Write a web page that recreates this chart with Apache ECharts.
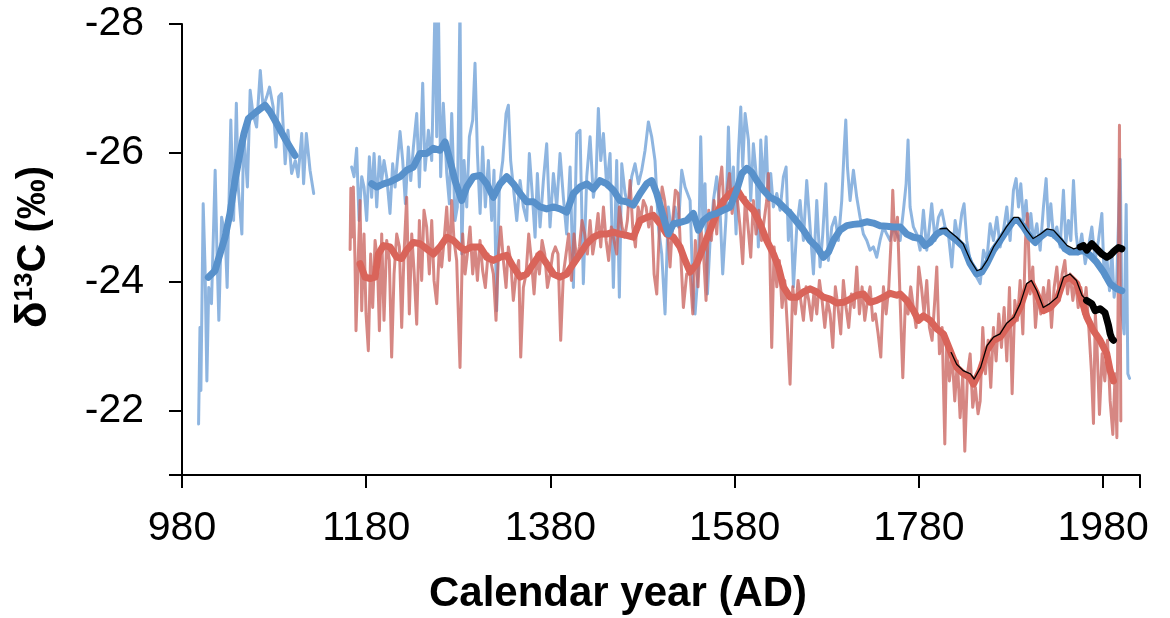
<!DOCTYPE html>
<html><head><meta charset="utf-8">
<script src="https://cdn.jsdelivr.net/npm/echarts/dist/echarts.min.js"></script>
<style>html,body{margin:0;padding:0;background:#fff}#c{width:1170px;height:618px}</style>
</head><body><div id="c"></div><script>
// ---- axis ticks / ranges ----
const xTicks = [980, 1180, 1380, 1580, 1780, 1980];
const yTicks = [-28, -26, -24, -22];

// ---- blue record, early segment: raw [year, d13C] ----
const blueRawEarly = [[998,-21.79],[999.5,-23.29],[1000.5,-22.31],[1003,-25.21],[1005,-24.23],[1007,-22.46],[1009,-23.91],[1012,-23.66],[1016,-25.73],[1018,-24.43],[1020,-23.40],[1023,-25.00],[1027,-24.69],[1029,-23.91],[1033,-26.51],[1036,-24.95],[1039,-26.77],[1041,-25.47],[1045,-24.74],[1047,-26.35],[1051,-25.47],[1054,-26.97],[1057,-26.61],[1061,-26.40],[1065,-27.28],[1068,-26.71],[1072,-26.87],[1075,-27.02],[1079,-26.71],[1082,-26.09],[1085,-26.87],[1088,-26.92],[1092,-25.83],[1095,-26.35],[1099,-25.68],[1103,-25.88],[1106,-25.63],[1110,-26.30],[1112,-25.52],[1115,-26.30],[1119,-25.73],[1123,-25.37]];
const blueSmoothEarly = [[1008.6,-24.07],[1015.8,-24.17],[1021.2,-24.43],[1026.7,-24.69],[1032.1,-25.06],[1037.5,-25.57],[1042.9,-25.99],[1047.3,-26.30],[1052,-26.53],[1061,-26.64],[1070.1,-26.74],[1075.5,-26.64],[1082.7,-26.46],[1091.8,-26.22],[1102.7,-25.96]];

// ---- blue record, main segment: raw ----
const blueRaw = [[1164.2,-25.78],[1166.8,-25.63],[1169.6,-26.07],[1172.2,-24.95],[1175.1,-25.63],[1177.6,-25.47],[1180.5,-24.95],[1183.4,-25.94],[1185.9,-25.31],[1188.5,-25.99],[1191.4,-25.16],[1194.3,-25.94],[1196.8,-25.57],[1199.3,-25.88],[1202.2,-25.63],[1205.8,-25.06],[1208.7,-25.83],[1211.3,-25.47],[1213.8,-25.88],[1216.7,-26.33],[1219.6,-25.88],[1222.5,-25.21],[1225.7,-26.09],[1228.3,-25.57],[1231.2,-26.09],[1234.8,-26.61],[1237.7,-25.47],[1241.3,-27.08],[1243.8,-25.73],[1247.5,-26.35],[1251.1,-25.88],[1254.7,-28.3],[1256.5,-26.25],[1258.3,-28.3],[1260.8,-25.63],[1263.7,-26.77],[1267.4,-25.68],[1270.3,-25.21],[1272.8,-26.61],[1276.4,-24.95],[1278.9,-25.16],[1281.8,-28.3],[1283.7,-24.43],[1286.2,-25.88],[1289.1,-25.16],[1292,-26.25],[1295.6,-26.51],[1298.1,-27.39],[1300.7,-25.99],[1303.6,-25.06],[1306.4,-26.09],[1309.3,-25.16],[1312.6,-25.88],[1316.2,-24.95],[1318.7,-25.73],[1321.6,-23.55],[1324.5,-25.47],[1328.2,-25.88],[1331.8,-26.61],[1334.3,-26.74],[1336.8,-25.88],[1339.7,-25.47],[1343.4,-24.95],[1347,-25.57],[1350.6,-25.16],[1354.2,-24.95],[1357.1,-25.99],[1360.7,-25.26],[1363.3,-24.69],[1365.8,-25.68],[1368.7,-24.85],[1372.3,-25.57],[1375.9,-26.14],[1379.5,-24.85],[1383.2,-25.68],[1386.8,-25.16],[1390.4,-25.99],[1394,-25.31],[1397.6,-24.74],[1401.3,-25.78],[1404.9,-23.91],[1408.5,-26.30],[1412.1,-26.35],[1415.7,-23.97],[1419.4,-25.63],[1423,-26.25],[1426.6,-25.31],[1429.5,-25.63],[1432,-26.69],[1434.6,-25.88],[1437.5,-26.30],[1441.1,-25.47],[1444.7,-25.99],[1448.3,-23.91],[1451.9,-25.88],[1454.8,-23.76],[1457.4,-25.83],[1461,-25.37],[1464.6,-25.16],[1468.2,-25.63],[1471.8,-25.83],[1475.5,-25.52],[1479.1,-25.73],[1482.7,-26.04],[1486.3,-26.48],[1489.9,-26.25],[1493.5,-25.88],[1497.2,-24.85],[1500.8,-24.43],[1504.4,-23.50],[1508,-25.16],[1511.6,-24.74],[1515.3,-25.16],[1518.9,-24.85],[1522.5,-25.73],[1526.1,-25.47],
[1531.6,-25.26],[1535.2,-23.60],[1537,-23.50],[1540.6,-24.23],[1543.1,-26.25],[1545.3,-25.00],[1547.8,-25.52],[1550.4,-23.81],[1553.3,-24.64],[1556.9,-25.26],[1560.5,-25.63],[1564.1,-25.11],[1567,-24.12],[1570.6,-25.00],[1573.2,-26.40],[1575.7,-25.26],[1578.6,-25.78],[1581.5,-24.74],[1584,-25.99],[1586.6,-26.71],[1588.7,-25.78],[1591.3,-26.61],[1594.9,-26.20],[1597.4,-25.26],[1600.3,-26.14],[1603.2,-25.68],[1605.7,-24.54],[1608.3,-26.20],[1611.2,-25.42],[1614.1,-26.25],[1616.6,-25.26],[1619.1,-25.68],[1622,-25.16],[1625.7,-25.37],[1629.3,-25.11],[1632.9,-25.63],[1635.8,-25.78],[1638.3,-24.64],[1640.8,-25.11],[1643.8,-23.92],[1647.4,-24.85],[1651,-25.26],[1654.6,-24.64],[1658.2,-25.57],[1661.8,-24.85],[1665.5,-24.12],[1669.1,-25.26],[1672.7,-24.23],[1675.6,-24.74],[1678.9,-25.52],[1681.7,-24.33],[1685.4,-24.85],[1689,-25.00],[1692.6,-24.64],[1696.2,-25.26],[1698.8,-26.04],[1700.6,-26.51],[1702.4,-25.78],[1705.3,-25.26],[1708.9,-25.73],[1712.5,-25.31],[1716.1,-25.00],[1719.7,-24.74],[1723.4,-24.64],[1727,-24.49],[1730.6,-24.54],[1734.2,-24.38],[1737.8,-24.64],[1741.5,-24.85],[1745.1,-24.74],[1748.7,-24.64],[1752.3,-24.85],[1755.9,-24.74],[1759.6,-24.64],[1763.2,-25.11],[1766.1,-25.52],[1768.2,-26.20],[1770.4,-25.16],[1774,-24.85],[1777.7,-24.74],[1781.3,-24.49],[1784.9,-25.11],[1788.5,-24.49],[1791.4,-24.85],[1793.9,-25.21],[1797.5,-24.64],[1801.2,-25.00],[1804.8,-25.11],[1808.4,-24.85],[1812,-24.74],[1815.7,-24.23],[1819.3,-24.95],[1822.9,-24.64],[1826.5,-25.06],[1829,-25.21],[1831.9,-24.64],[1835.6,-24.33],[1839.2,-24.23],[1842.8,-24.07],
[1846.5,-23.97],[1850.1,-24.49],[1853.7,-24.33],[1857.3,-24.90],[1860.9,-24.64],[1864.6,-25.00],[1868.2,-24.54],[1871.8,-24.80],[1875.4,-25.16],[1879,-24.64],[1882.6,-25.42],[1885.5,-25.60],[1888.1,-25.16],[1890.6,-25.52],[1893.5,-24.95],[1896.4,-25.26],[1898.9,-24.69],[1901.5,-25.06],[1904.4,-24.64],[1908,-24.90],[1911.6,-24.49],[1915.2,-25.16],[1918.1,-25.60],[1920.6,-24.85],[1923.2,-25.21],[1926.1,-24.69],[1929.7,-24.85],[1933.3,-24.54],[1936.9,-25.42],[1939.5,-24.59],[1942.4,-24.95],[1944.9,-24.64],[1947.8,-25.57],[1950.7,-24.74],[1953.2,-24.43],[1956.8,-24.74],[1960.5,-24.28],[1964.1,-24.54],[1967.7,-24.85],[1971.3,-24.33],[1974.9,-24.64],[1978.6,-25.06],[1981.1,-24.07],[1984,-24.38],[1986.9,-23.86],[1989.4,-24.49],[1991.9,-23.76],[1994.8,-24.02],[1996.6,-24.90],[1998.5,-25.90],[2000.3,-23.50],[2002.8,-23.19],[2005,-25.20],[2006.8,-22.57],[2008.6,-22.50]];

// ---- blue record, main segment: smoothed ----
const blueSmooth = [[1185.9,-25.52],[1191.4,-25.47],[1198.6,-25.52],[1205.8,-25.55],[1216.7,-25.63],[1223.9,-25.73],[1231.2,-25.78],[1238.4,-25.99],[1245.7,-25.99],[1252.9,-26.07],[1260.1,-26.04],[1265.6,-26.17],[1271,-25.88],[1276.4,-25.57],[1283.7,-25.26],[1289.1,-25.47],[1296.3,-25.63],[1303.6,-25.65],[1310.8,-25.52],[1318,-25.31],[1325.3,-25.52],[1332.5,-25.63],[1339.7,-25.52],[1347,-25.37],[1354.2,-25.24],[1361.5,-25.24],[1368.7,-25.16],[1375.9,-25.13],[1383.2,-25.16],[1390.4,-25.13],[1397.6,-25.08],[1404.9,-25.37],[1412.1,-25.47],[1419.4,-25.52],[1426.6,-25.44],[1433.8,-25.57],[1441.1,-25.52],[1448.3,-25.42],[1455.5,-25.26],[1462.8,-25.24],[1470,-25.19],[1477.3,-25.37],[1484.5,-25.52],[1489.9,-25.57],[1495.4,-25.37],[1502.6,-25.00],[1508,-24.74],[1513.5,-24.90],[1520.7,-24.92],[1527.9,-24.95],[1535.2,-25.06],[1540.6,-24.80],[1546,-24.95],[1553.3,-25.03],[1560.5,-25.06],[1567.7,-25.11],[1575,-25.16],[1582.2,-25.42],[1587.7,-25.68],[1593.1,-25.76],[1598.5,-25.70],[1603.9,-25.57],[1611.2,-25.42],[1618.4,-25.31],[1625.7,-25.26],[1632.9,-25.16],[1640.1,-25.06],[1647.4,-24.93],[1654.6,-24.80],[1661.9,-24.64],[1669.1,-24.54],[1676.3,-24.38],[1681.8,-24.46],[1687.2,-24.64],[1694.4,-24.80],[1701.7,-24.87],[1708.9,-24.89],[1716.1,-24.90],[1723.4,-24.93],[1730.6,-24.91],[1737.8,-24.87],[1745.1,-24.86],[1752.3,-24.85],[1759.6,-24.85],[1766.8,-24.74],[1774.1,-24.69],[1781.3,-24.67],[1786.7,-24.56],[1792.2,-24.61],[1799.4,-24.74],[1806.6,-24.80],[1813.9,-24.72],[1821.1,-24.64],[1828.4,-24.54],[1835.6,-24.28],[1842.8,-24.12],[1848.3,-24.15],[1853.7,-24.28],[1860.9,-24.49],[1868.2,-24.64],[1875.4,-24.80],[1882.6,-24.95],[1888.1,-24.95],[1893.5,-24.85],[1900.7,-24.69],[1906.2,-24.61],[1911.6,-24.69],[1918.8,-24.77],[1926.1,-24.74],[1933.3,-24.64],[1938.7,-24.51],[1944.2,-24.46],[1951.4,-24.46],[1958.6,-24.49],[1965.9,-24.41],[1973.1,-24.30],[1980.4,-24.15],[1987.6,-23.97],[1994.8,-23.89],[2000.3,-23.86]];

// ---- red record: raw ----
const redRaw = [[1162.5,-24.50],[1163.3,-25.45],[1164.2,-24.69],[1166,-25.47],[1167.8,-24.33],[1168.9,-23.24],[1171.5,-24.43],[1173.3,-25.26],[1175.1,-23.55],[1177.6,-24.74],[1179.8,-23.50],[1182.3,-22.93],[1184.8,-24.43],[1187,-23.60],[1189.6,-24.64],[1192.1,-24.33],[1194.3,-23.24],[1196.8,-24.74],[1199.3,-23.40],[1202.2,-24.64],[1205.1,-24.33],[1207.6,-22.83],[1210.2,-24.12],[1213.1,-24.74],[1216,-24.54],[1218.5,-23.29],[1221,-24.43],[1223.9,-25.31],[1226.8,-23.50],[1229.4,-24.74],[1231.9,-24.17],[1234.8,-23.34],[1237.7,-24.95],[1240.2,-24.02],[1242.7,-25.11],[1245.6,-24.85],[1248.5,-24.12],[1251.1,-24.95],[1253.6,-24.02],[1256.5,-23.66],[1259.4,-24.54],[1261.9,-24.23],[1264.5,-24.64],[1267.4,-25.16],[1270.3,-24.33],[1272.8,-25.26],[1275.3,-24.64],[1278.2,-24.33],[1281.8,-22.67],[1284.7,-24.74],[1287.3,-24.12],[1289.8,-24.43],[1292.7,-24.85],[1295.6,-24.12],[1298.1,-24.54],[1300.7,-24.02],[1303.5,-24.64],[1306.4,-24.17],[1309.3,-23.91],[1312.2,-24.43],[1315.1,-24.33],[1318,-24.12],[1320.9,-23.40],[1323.5,-24.43],[1326,-24.85],[1328.9,-24.33],[1331.8,-23.91],[1334.3,-24.54],[1336.8,-24.33],[1339.7,-23.71],[1342.6,-24.12],[1345.5,-24.33],[1347.7,-22.83],[1350.6,-23.91],[1353.5,-24.12],[1356.4,-24.74],[1359.3,-24.33],[1362.2,-23.81],[1365.1,-24.43],[1368,-24.12],[1370.9,-24.64],[1373.8,-24.43],[1376.7,-23.91],[1379.5,-24.12],[1382.4,-24.43],[1385.3,-24.54],[1388.2,-24.43],[1391.1,-23.09],[1394,-24.12],[1396.9,-24.43],[1399.8,-24.74],[1402.7,-24.02],[1405.6,-24.74],[1408.5,-24.33],[1411.4,-24.54],[1414.3,-24.95],[1417.2,-24.74],[1420.1,-24.43],[1423,-24.95],[1425.9,-24.43],[1428.8,-24.69],[1431.7,-25.06],[1434.6,-24.54],[1437.5,-25.16],[1440.4,-24.64],[1443.2,-24.33],[1446.1,-24.85],[1449,-24.64],[1451.9,-24.43],[1454.8,-25.16],[1457.7,-24.85],[1460.6,-24.69],[1463.5,-24.95],[1466.4,-25.57],[1469.3,-24.85],[1472.2,-24.54],[1475.1,-25.16],[1478,-24.95],[1480.9,-25.26],[1483.8,-25.16],[1486.7,-24.85],[1489.6,-25.16],[1492.5,-24.12],[1495.4,-23.81],[1498.3,-24.85],[1501.2,-25.47],[1504,-25.26],[1506.9,-24.85],[1509.8,-24.23],[1512.7,-24.95],[1515.6,-25.42],[1518.5,-25.37],[1521.4,-24.43],[1524.3,-23.60],[1527.9,-24.12],
[1531.6,-24.12],[1534.5,-23.50],[1537.3,-24.64],[1540.2,-23.92],[1543.1,-24.85],[1546,-24.49],[1548.9,-23.71],[1551.8,-25.11],[1554.7,-24.64],[1557.6,-25.26],[1560.5,-24.74],[1563.4,-25.47],[1566,-25.78],[1568.5,-25.11],[1571.4,-25.37],[1574.3,-25.68],[1577.2,-25.06],[1580.1,-25.47],[1583,-25.26],[1585.8,-24.85],[1588.7,-24.28],[1591.6,-25.31],[1594.5,-24.85],[1597.4,-24.38],[1600.3,-25.26],[1603.2,-24.74],[1606.1,-25.11],[1609,-24.64],[1611.9,-24.95],[1614.8,-25.26],[1616.6,-25.68],[1618.4,-24.23],[1620.2,-22.98],[1622.8,-24.54],[1625.7,-23.92],[1628.5,-24.33],[1631.4,-23.60],[1634.3,-24.02],[1637.2,-23.29],[1640.1,-22.41],[1643,-23.92],[1645.9,-23.50],[1648.8,-24.02],[1651.7,-23.71],[1654.6,-23.40],[1657.5,-23.92],[1660.4,-23.71],[1663.3,-23.40],[1666.2,-23.86],[1669.1,-23.50],[1672,-24.02],[1674.9,-23.71],[1677.8,-23.29],[1680.7,-23.71],[1683.6,-23.50],[1686.5,-22.98],[1689.3,-23.92],[1692.2,-23.60],[1695.1,-23.19],[1698,-24.02],[1700.9,-23.60],[1703.8,-23.29],[1706.7,-23.81],[1709.6,-23.60],[1712.5,-24.23],[1715.4,-23.50],[1718.3,-23.92],[1721.2,-23.40],[1724.1,-23.71],[1727,-23.92],[1729.9,-23.40],[1732.8,-23.50],[1735.7,-23.19],[1738.6,-22.83],[1741.5,-23.92],[1744.4,-23.50],[1747.3,-23.92],[1750.1,-24.74],[1751.6,-25.42],[1753.8,-24.64],[1756.7,-25.00],[1759.6,-23.71],[1762.5,-22.51],[1765.3,-23.71],[1768.2,-23.50],[1771.1,-23.92],[1774,-23.60],[1776.9,-23.29],[1779.8,-24.23],[1782.7,-23.92],[1785.6,-23.50],[1788.5,-24.02],[1791.4,-23.29],[1794.3,-23.09],[1797.2,-23.71],[1799.4,-24.23],[1802.3,-22.88],[1805.2,-23.29],[1808.1,-21.48],[1810.2,-23.09],[1813.1,-22.46],[1816,-22.88],[1818.9,-22.15],[1821.8,-22.77],[1824.7,-21.89],[1827.6,-22.57],[1829.8,-21.37],[1832.7,-22.57],[1835.6,-22.88],[1838.4,-22.05],[1841.3,-22.36],[1844.2,-21.95],
[1846.5,-22.15],[1849.3,-23.29],[1852.2,-22.57],[1855.1,-23.09],[1858,-22.36],[1860.9,-23.29],[1863.8,-22.77],[1866.7,-23.50],[1869.6,-22.98],[1872.5,-23.60],[1875.4,-22.77],[1878.3,-23.91],[1881.2,-22.26],[1884.1,-23.71],[1887,-23.40],[1889.9,-24.02],[1892.8,-23.19],[1895.7,-24.64],[1897.8,-25.06],[1900.7,-23.81],[1903.6,-24.23],[1906.5,-23.29],[1909.4,-23.81],[1912.3,-23.50],[1915.2,-23.91],[1918.1,-23.60],[1921,-24.02],[1923.9,-23.29],[1926.8,-23.91],[1929.7,-24.23],[1932.6,-23.71],[1935.5,-24.12],[1938.4,-24.33],[1941.3,-23.81],[1944.2,-24.12],[1947.1,-23.71],[1950,-24.02],[1952.9,-23.60],[1955.8,-23.91],[1958.6,-23.50],[1961.5,-23.91],[1964.4,-23.29],[1967.3,-22.60],[1969.5,-21.80],[1971.5,-23.50],[1973.1,-23.09],[1976,-21.94],[1978.9,-22.88],[1981.8,-22.46],[1984.7,-23.09],[1987.6,-22.15],[1990.5,-21.63],[1993,-22.57],[1994.9,-21.58],[1996.5,-24.12],[1997.7,-26.43],[1999.2,-21.84]];

// ---- red record: smoothed ----
const redSmooth = [[1173.3,-24.28],[1178.7,-24.07],[1184.1,-24.05],[1189.6,-24.07],[1193.2,-24.43],[1198.6,-24.56],[1205.8,-24.54],[1213.1,-24.38],[1218.5,-24.36],[1223.9,-24.49],[1231.2,-24.61],[1238.4,-24.59],[1245.7,-24.51],[1252.9,-24.43],[1260.1,-24.54],[1267.4,-24.69],[1274.6,-24.64],[1281.8,-24.54],[1287.3,-24.49],[1294.5,-24.54],[1303.6,-24.54],[1310.8,-24.38],[1318,-24.33],[1325.3,-24.38],[1332.5,-24.41],[1339.7,-24.23],[1347,-24.07],[1354.2,-24.12],[1361.5,-24.28],[1368.7,-24.43],[1375.9,-24.28],[1383.2,-24.12],[1390.4,-24.07],[1397.6,-24.12],[1404.9,-24.28],[1412.1,-24.43],[1419.4,-24.59],[1426.6,-24.69],[1433.8,-24.74],[1441.1,-24.74],[1448.3,-24.77],[1455.5,-24.74],[1462.8,-24.72],[1470,-24.69],[1477.3,-24.95],[1484.5,-25.00],[1491.7,-25.03],[1499,-24.90],[1506.2,-24.74],[1513.5,-24.69],[1520.7,-24.54],[1526.1,-24.33],[1531.6,-24.15],[1538.8,-24.28],[1546,-24.54],[1553.3,-24.80],[1560.5,-25.06],[1567.7,-25.26],[1575,-25.37],[1582.2,-25.44],[1587.7,-25.31],[1593.1,-25.21],[1600.3,-25.11],[1607.6,-24.90],[1614.8,-24.64],[1622.1,-24.43],[1627.5,-24.23],[1632.9,-23.92],[1640.1,-23.76],[1647.4,-23.76],[1654.6,-23.84],[1661.9,-23.89],[1669.1,-23.84],[1676.3,-23.76],[1683.6,-23.73],[1690.8,-23.67],[1698.1,-23.68],[1705.3,-23.73],[1712.5,-23.79],[1719.8,-23.81],[1727,-23.68],[1734.2,-23.71],[1741.5,-23.76],[1748.7,-23.82],[1756,-23.79],[1759.6,-23.81],[1766.8,-23.71],[1774.1,-23.55],[1779.5,-23.40],[1784.9,-23.47],[1792.2,-23.40],[1799.4,-23.27],[1806.6,-23.19],[1813.9,-22.93],[1821.1,-22.67],[1828.4,-22.57],[1835.6,-22.51],[1839.2,-22.41],[1846.5,-22.62],[1853.7,-22.93],[1860.9,-23.09],[1868.2,-23.14],[1875.4,-23.29],[1882.6,-23.40],[1889.9,-23.60],[1897.1,-23.91],[1902.5,-23.97],[1908,-23.81],[1915.2,-23.55],[1922.4,-23.60],[1929.7,-23.71],[1936.9,-24.02],[1944.2,-24.07],[1951.4,-23.97],[1956.8,-23.71],[1962.3,-23.45],[1969.5,-23.24],[1976.7,-23.09],[1984,-22.88],[1987.6,-22.62],[1991.2,-22.46]];

// ---- black comparison curves (thin part and thick recent part) ----
const blackBlueThin = [[1803,-24.82],[1810,-24.83],[1814,-24.77],[1821,-24.69],[1828,-24.59],[1836,-24.33],[1843,-24.17],[1848,-24.20],[1854,-24.33],[1861,-24.54],[1868,-24.69],[1875,-24.85],[1883,-25.00],[1888,-25.00],[1897,-24.80],[1904,-24.67],[1912,-24.74],[1919,-24.82],[1926,-24.80],[1933,-24.69],[1941,-24.56],[1948,-24.51],[1955,-24.54]];
const blackBlueThick = [[1955,-24.54],[1958.6,-24.56],[1962.3,-24.49],[1967.7,-24.59],[1973.1,-24.51],[1978.5,-24.43],[1984,-24.38],[1987.6,-24.41],[1993,-24.49],[1996.6,-24.53],[2000.3,-24.51]];
const blackRedThin = [[1815,-22.90],[1821,-22.72],[1828,-22.62],[1836,-22.57],[1840,-22.49],[1847,-22.67],[1854,-23.01],[1861,-23.14],[1868,-23.19],[1875,-23.35],[1883,-23.45],[1890,-23.66],[1897,-23.97],[1902,-24.02],[1908,-23.86],[1915,-23.60],[1922,-23.66],[1930,-23.76],[1937,-24.07],[1944,-24.12],[1951,-24.02],[1957,-23.79],[1962,-23.71]];
const blackRedThick = [[1962,-23.71],[1967.7,-23.66],[1971.3,-23.55],[1976.7,-23.58],[1982,-23.52],[1985.8,-23.32],[1987.6,-23.19],[1989.4,-23.12],[1991.2,-23.09]];

const FONT = '"Liberation Sans", Arial, Helvetica, sans-serif';
function line(data, color, width, z) {
  return { type: 'line', data: data, symbol: 'none', showSymbol: false, silent: true,
    animation: false, clip: true, z: z,
    lineStyle: { color: color, width: width, join: 'round', cap: 'round' } };
}
const BLUE_RAW = 'rgba(110,160,215,0.78)';
const RED_RAW = 'rgba(200,95,90,0.75)';
const BLUE_SM = '#5891cb';
const RED_SM = '#d9645a';

const chart = echarts.init(document.getElementById('c'), null, { renderer: 'canvas' });
chart.setOption({
  backgroundColor: '#ffffff',
  animation: false,
  grid: { left: 182, right: 30, top: 24, bottom: 143, containLabel: false },
  xAxis: {
    type: 'value', min: 980, max: 2020, interval: 200,
    axisLine: { onZero: false, lineStyle: { color: '#000', width: 2 } },
    axisTick: { show: true, length: 13, lineStyle: { color: '#000', width: 2 } },
    axisLabel: { fontSize: 41, color: '#000', fontFamily: FONT, margin: 33,
      formatter: v => xTicks.includes(v) ? String(v) : '' },
    splitLine: { show: false }
  },
  yAxis: {
    type: 'value', min: -28, max: -21, interval: 2, inverse: true,
    axisLine: { show: true, onZero: false, lineStyle: { color: '#000', width: 2 } },
    axisTick: { show: true, length: 13, lineStyle: { color: '#000', width: 2 } },
    axisLabel: { fontSize: 41, color: '#000', fontFamily: FONT, margin: 38,
      formatter: v => yTicks.includes(v) ? String(v) : '' },
    splitLine: { show: false }
  },
  series: [
    line(blueRawEarly, BLUE_RAW, 3, 1),
    line(blueRaw, BLUE_RAW, 3, 1),
    line(redRaw, RED_RAW, 3, 2),
    line(redSmooth, RED_SM, 7, 3),
    line(blueSmoothEarly, BLUE_SM, 7, 4),
    line(blueSmooth, BLUE_SM, 7, 4),
    line(blackBlueThin, '#000', 1.3, 5),
    line(blackRedThin, '#000', 1.3, 5),
    line(blackBlueThick, '#000', 7, 6),
    line(blackRedThick, '#000', 7, 6)
  ],
  graphic: [
    { type: 'text', x: 618, y: 594, z: 10,
      style: { text: 'Calendar year (AD)', fontSize: 42, fontWeight: 'bold', fontFamily: FONT,
        fill: '#000', align: 'center', verticalAlign: 'middle' } },
    { type: 'text', x: 34, y: 247, rotation: Math.PI / 2, z: 10,
      style: { text: '{d|δ}{s|13}{c|C (‰)}', fontSize: 40, fontWeight: 'bold', fontFamily: FONT,
        fill: '#000', align: 'center', verticalAlign: 'middle',
        rich: {
          d: { fontSize: 44, fontWeight: 'bold', fontFamily: FONT, fill: '#000' },
          s: { fontSize: 26, fontWeight: 'bold', fontFamily: FONT, fill: '#000', verticalAlign: 'top' },
          c: { fontSize: 40, fontWeight: 'bold', fontFamily: FONT, fill: '#000' }
        } } }
  ]
});
</script></body></html>
